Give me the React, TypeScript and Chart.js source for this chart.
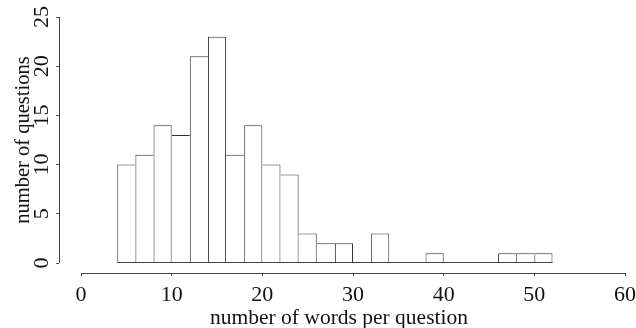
import { useEffect, useRef } from "react";
import { Chart, registerables } from "chart.js";

Chart.register(...registerables);

const binStarts = [4, 6, 8, 10, 12, 14, 16, 18, 20, 22, 24, 26, 28, 30, 32, 34, 36, 38, 40, 42, 44, 46, 48, 50];
const binWidth = 2;
const counts = [10, 11, 14, 13, 21, 23, 11, 14, 10, 9, 3, 2, 2, 0, 3, 0, 0, 1, 0, 0, 0, 1, 1, 1];
const xTicks = [0, 10, 20, 30, 40, 50, 60];
const yTicks = [0, 5, 10, 15, 20, 25];
const xTitle = "number of words per question";
const yTitle = "number of questions";

const FONT_FAMILY = "'Liberation Serif', 'Times New Roman', serif";
const LINE = "#444";
const TEXT = "#111";

export default function App() {
  const ref = useRef<HTMLCanvasElement | null>(null);

  useEffect(() => {
    document.body.style.margin = "0";
    const canvas = ref.current;
    if (!canvas) return;

    const axesPlugin = {
      id: "rAxes",
      afterDraw(chart: any) {
        const ctx = chart.ctx;
        const xs = chart.scales.x;
        const ys = chart.scales.y;
        const area = chart.chartArea;
        ctx.save();
        ctx.strokeStyle = LINE;
        ctx.lineWidth = 1;
        // x axis segment
        const ax = Math.round(area.bottom) + 0.5;
        ctx.beginPath();
        ctx.moveTo(xs.getPixelForValue(xTicks[0]), ax);
        ctx.lineTo(xs.getPixelForValue(xTicks[xTicks.length - 1]), ax);
        ctx.stroke();
        // y axis segment
        const ay = Math.round(area.left) + 0.5;
        ctx.beginPath();
        ctx.moveTo(ay, ys.getPixelForValue(yTicks[0]));
        ctx.lineTo(ay, ys.getPixelForValue(yTicks[yTicks.length - 1]));
        ctx.stroke();
        // histogram baseline
        const by = Math.round(ys.getPixelForValue(0)) - 0.5;
        ctx.beginPath();
        ctx.moveTo(xs.getPixelForValue(binStarts[0]), by);
        ctx.lineTo(xs.getPixelForValue(binStarts[binStarts.length - 1] + binWidth), by);
        ctx.stroke();
        // titles
        ctx.fillStyle = TEXT;
        ctx.font = `21.5px ${FONT_FAMILY}`;
        ctx.textAlign = "center";
        ctx.textBaseline = "alphabetic";
        ctx.fillText(xTitle, 339, 324);
        ctx.font = `20.5px ${FONT_FAMILY}`;
        ctx.translate(29, (area.top + area.bottom) / 2);
        ctx.rotate(-Math.PI / 2);
        ctx.fillText(yTitle, 0, 0);
        ctx.restore();
      },
    };

    const tickFont = { family: FONT_FAMILY, size: 22 };

    const chart = new Chart(canvas, {
      type: "bar",
      data: {
        datasets: [
          {
            data: binStarts.map((s, i) => ({ x: s + binWidth / 2, y: counts[i] })),
            backgroundColor: "#ffffff",
            borderColor: "#333",
            borderSkipped: "start",
            inflateAmount: 0,
            barPercentage: 1,
            categoryPercentage: 1,
            borderWidth: (c: any) => {
              const i = c.dataIndex;
              if (i === undefined) return 1;
              const v = counts[i];
              const prev = i > 0 ? counts[i - 1] : -1;
              const next = i < counts.length - 1 ? counts[i + 1] : -1;
              return { top: 1, bottom: 0, left: prev <= v ? 1 : 0, right: next < v ? 1 : 0 };
            },
          } as any,
        ],
      },
      options: {
        animation: false,
        responsive: false,
        maintainAspectRatio: false,
        devicePixelRatio: 1,
        layout: { padding: { top: 7.16, left: 0, right: 0, bottom: 0 } },
        plugins: { legend: { display: false }, tooltip: { enabled: false } },
        scales: {
          x: {
            type: "linear",
            offset: false,
            min: -2.4,
            max: 61.21,
            afterBuildTicks: (s: any) => {
              s.ticks = xTicks.map((v) => ({ value: v }));
            },
            afterFit: (s: any) => {
              s.height = 55.16;
              s.paddingLeft = 0;
              s.paddingRight = 0;
              s.paddingTop = 0;
              s.paddingBottom = 0;
            },
            grid: { display: true, offset: false, drawOnChartArea: false, drawTicks: true, tickLength: 3, color: LINE, lineWidth: 1 },
            border: { display: false },
            ticks: { font: tickFont, color: TEXT, padding: 6, maxRotation: 0, minRotation: 0, autoSkip: false },
          },
          y: {
            type: "linear",
            min: -1,
            max: 26,
            afterBuildTicks: (s: any) => {
              s.ticks = yTicks.map((v) => ({ value: v }));
            },
            afterFit: (s: any) => {
              s.width = 59.24;
              s.paddingLeft = 0;
              s.paddingRight = 0;
              s.paddingTop = 0;
              s.paddingBottom = 0;
            },
            grid: { display: true, drawOnChartArea: false, drawTicks: true, tickLength: 3, color: LINE, lineWidth: 1 },
            border: { display: false },
            ticks: { font: tickFont, color: TEXT, padding: 3, minRotation: 90, maxRotation: 90, crossAlign: "center", autoSkip: false },
          },
        },
      } as any,
      plugins: [axesPlugin],
    });

    return () => chart.destroy();
  }, []);

  return (
    <div style={{ width: 636, height: 328 }}>
      <canvas ref={ref} width={636} height={328} style={{ display: "block" }} />
    </div>
  );
}
